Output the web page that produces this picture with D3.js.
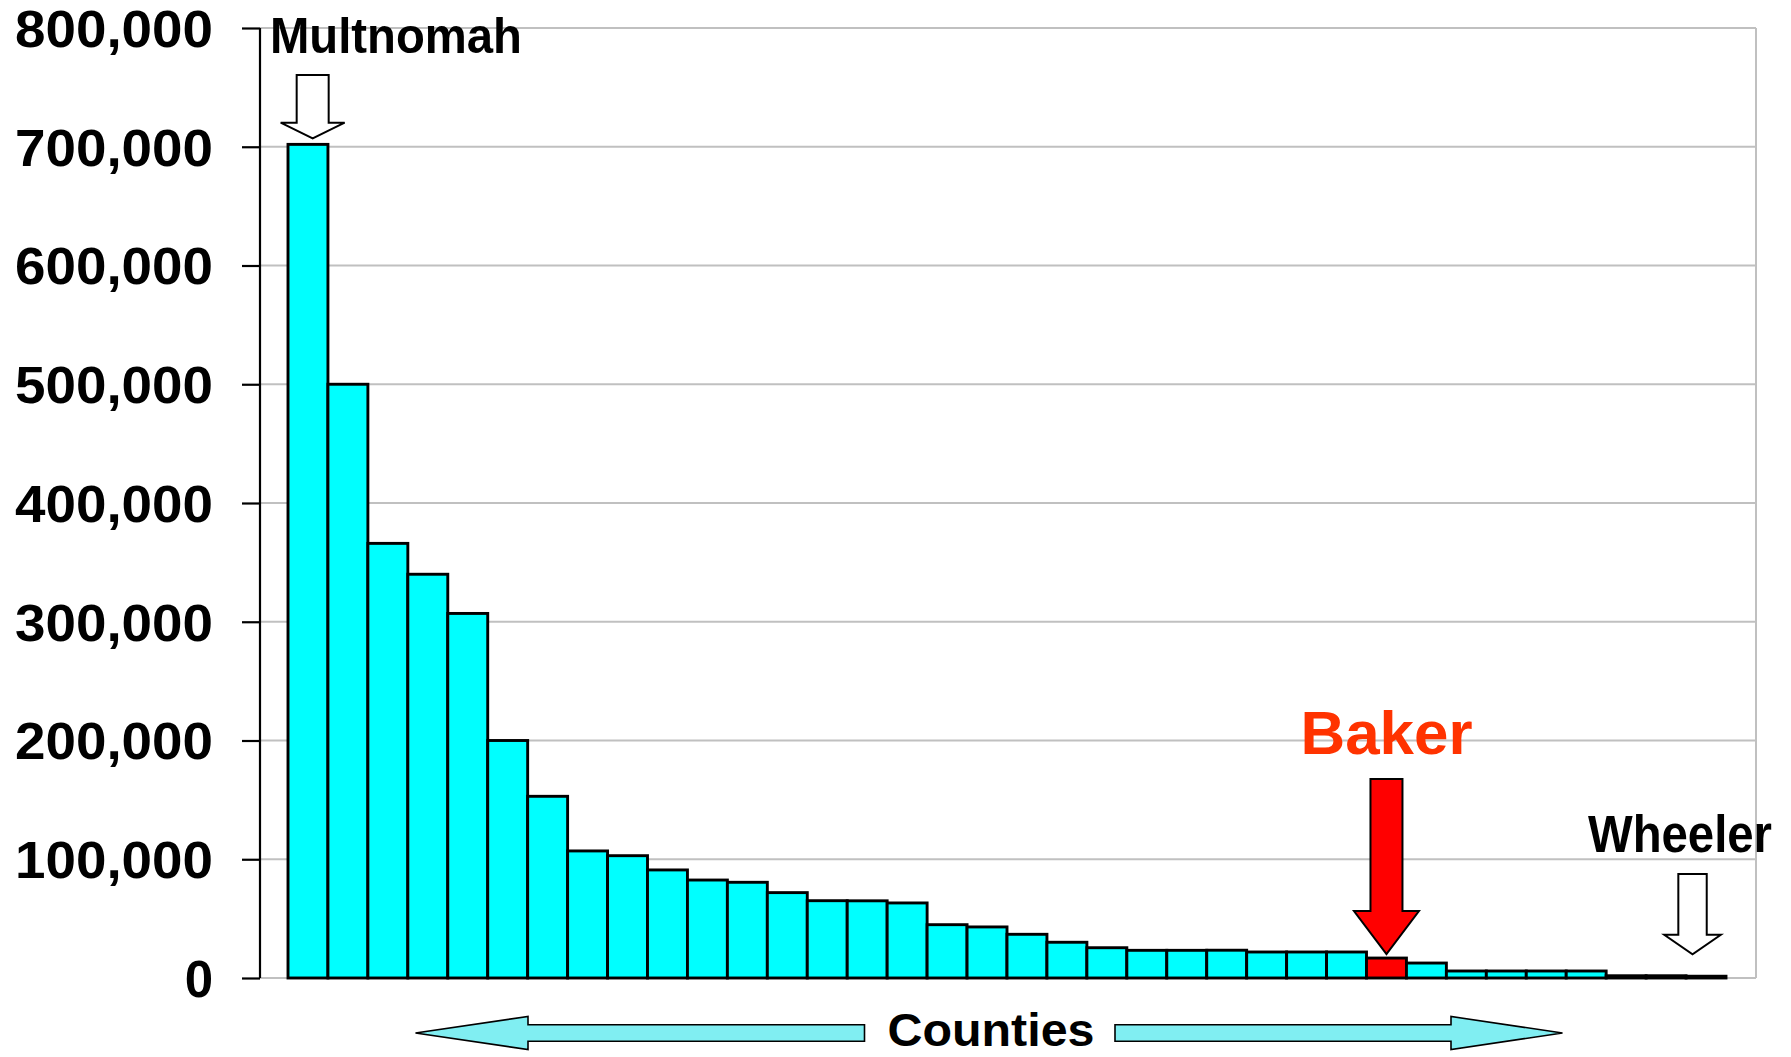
<!DOCTYPE html>
<html>
<head>
<meta charset="utf-8">
<script src="https://cdn.jsdelivr.net/npm/d3@7"></script>
<style>
  html, body { margin: 0; padding: 0; background: #ffffff; }
  svg { display: block; }
  text { font-family: "Liberation Sans", Arial, sans-serif; font-weight: bold; }
</style>
</head>
<body>
<svg id="chart" width="1791" height="1057"></svg>
<script>
// ---- Data (Oregon counties ranked by population) ----
const ranks = d3.range(1, 37);
const population = [702000, 500000, 366000, 340000, 307000, 200000, 153000, 107000, 103000,
  91000, 82500, 80600, 71900, 65100, 65000, 63200, 44900, 43000, 36800, 30100, 25500,
  23300, 23300, 23400, 21900, 21900, 21900, 16800, 12600, 5900, 5900, 5900, 5900,
  1900, 1900, 1500];
const yTicks = [0, 100000, 200000, 300000, 400000, 500000, 600000, 700000, 800000];
const labelNames = ["Multnomah", "Baker", "Wheeler"];
const labelRanks = [1, 28, 36];
const highlightRank = 28;
const axisTitle = "Counties";

// ---- Layout ----
const svg = d3.select("#chart");
const plotLeft = 260, plotRight = 1756, plotTop = 28, plotBottom = 978;
const barsLeft = 288, barsRight = 1726;

const x = d3.scaleBand().domain(ranks).range([barsLeft, barsRight]).padding(0);
const y = d3.scaleLinear().domain([0, 800000]).range([plotBottom, plotTop]);

// gridlines
svg.append("g").selectAll("line").data(yTicks).join("line")
  .attr("x1", plotLeft).attr("x2", plotRight)
  .attr("y1", d => y(d)).attr("y2", d => y(d))
  .attr("stroke", "#c0c0c0").attr("stroke-width", 2);
// right border
svg.append("line")
  .attr("x1", plotRight).attr("x2", plotRight)
  .attr("y1", y(800000)).attr("y2", y(0))
  .attr("stroke", "#c0c0c0").attr("stroke-width", 2);

// bars
svg.append("g").selectAll("rect").data(population).join("rect")
  .attr("x", (d, i) => x(ranks[i]))
  .attr("y", d => y(d))
  .attr("width", x.bandwidth())
  .attr("height", d => y(0) - y(d))
  .attr("fill", (d, i) => ranks[i] === highlightRank ? "#ff0000" : "#00ffff")
  .attr("stroke", "#000").attr("stroke-width", 2.9);

// y axis
const fmt = d3.format(",");
const yAxis = d3.axisLeft(y).tickValues(yTicks).tickSize(18).tickPadding(29).tickFormat(fmt);
const ag = svg.append("g").attr("transform", `translate(${plotLeft},0)`).call(yAxis);
ag.select(".domain").attr("stroke", "#000").attr("stroke-width", 2.2)
  .attr("d", `M-0,${plotTop}V${plotBottom}`);
ag.selectAll(".tick line").attr("stroke", "#000").attr("stroke-width", 2.2);
ag.selectAll(".tick text")
  .attr("fill", "#000")
  .style("font-size", "51px")
  .style("font-family", "'Liberation Sans', Arial, sans-serif")
  .style("font-weight", "bold")
  .attr("dy", "0.36em")
  .each(function(d) {
    const s = fmt(d);
    if (s.length > 1) d3.select(this).attr("textLength", 198).attr("lengthAdjust", "spacingAndGlyphs");
  });

// ---- Annotations ----
function downArrow(cx, shaftTop, headBase, tip, shw, hhw) {
  return `M${cx - shw},${shaftTop}H${cx + shw}V${headBase}H${cx + hhw}L${cx},${tip}L${cx - hhw},${headBase}H${cx - shw}Z`;
}
const cx = r => x(r) + x.bandwidth() / 2;
const val = r => population[ranks.indexOf(r)];

// Multnomah
svg.append("text").attr("x", 270).attr("y", 52.5)
  .attr("font-size", 50).attr("textLength", 252).attr("lengthAdjust", "spacingAndGlyphs")
  .attr("fill", "#000").text(labelNames[0]);
svg.append("path")
  .attr("d", downArrow(cx(labelRanks[0]) + 4.7, 75, 122.7, y(val(labelRanks[0])) - 6, 16, 32))
  .attr("fill", "#fff").attr("stroke", "#000").attr("stroke-width", 2);

// Baker
svg.append("text").attr("x", cx(labelRanks[1])).attr("y", 754).attr("text-anchor", "middle")
  .attr("font-size", 62).attr("textLength", 172).attr("lengthAdjust", "spacingAndGlyphs")
  .attr("fill", "#ff3300").text(labelNames[1]);
svg.append("path")
  .attr("d", downArrow(cx(labelRanks[1]), 779, 911, y(val(labelRanks[1])) - 4, 16, 32.5))
  .attr("fill", "#ff0000").attr("stroke", "#000").attr("stroke-width", 2);

// Wheeler
svg.append("text").attr("x", 1588).attr("y", 852)
  .attr("font-size", 51).attr("textLength", 184).attr("lengthAdjust", "spacingAndGlyphs")
  .attr("fill", "#000").text(labelNames[2]);
svg.append("path")
  .attr("d", downArrow(cx(labelRanks[2]) - 13.5, 874, 934.7, 954.3, 14.2, 28.3))
  .attr("fill", "#fff").attr("stroke", "#000").attr("stroke-width", 2);

// Counties axis title with double arrows
const ay = 1033;
svg.append("path")
  .attr("d", `M415.5,${ay}L528,${ay - 16.5}V${ay - 8.3}H864.5V${ay + 8.3}H528V${ay + 16.5}Z`)
  .attr("fill", "#80eef2").attr("stroke", "#000").attr("stroke-width", 1.6);
svg.append("path")
  .attr("d", `M1562.5,${ay}L1451,${ay - 16.5}V${ay - 8.3}H1115V${ay + 8.3}H1451V${ay + 16.5}Z`)
  .attr("fill", "#80eef2").attr("stroke", "#000").attr("stroke-width", 1.6);
svg.append("text").attr("x", 991).attr("y", 1046).attr("text-anchor", "middle")
  .attr("font-size", 47).attr("textLength", 207).attr("lengthAdjust", "spacingAndGlyphs")
  .attr("fill", "#000").text(axisTitle);
</script>
</body>
</html>
